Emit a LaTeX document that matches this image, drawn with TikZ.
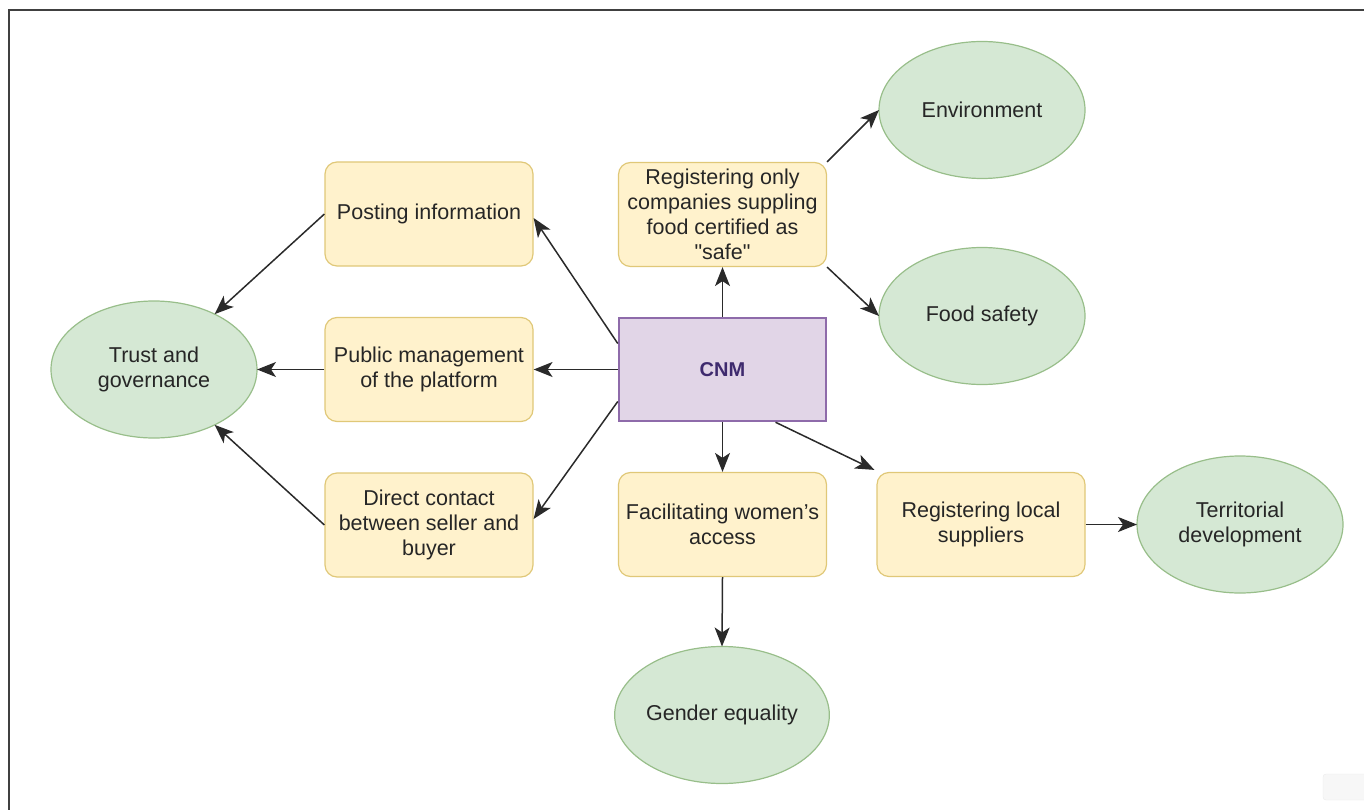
\documentclass[tikz,border=0pt]{standalone}
\usepackage{fontspec}
\setmainfont{Liberation Sans}
\newfontfamily\rawfont{Liberation Sans}
\usetikzlibrary{shapes.geometric,arrows.meta,calc}
\definecolor{boxfill}{HTML}{FFF2CC}
\definecolor{boxdraw}{HTML}{E0C878}
\definecolor{ellfill}{HTML}{D5E8D4}
\definecolor{elldraw}{HTML}{98BE8A}
\definecolor{cnmfill}{HTML}{E1D5E7}
\definecolor{cnmdraw}{HTML}{8E6BAA}
\definecolor{cnmtext}{HTML}{3E2A6E}
\definecolor{txt}{HTML}{262626}
\definecolor{lin}{HTML}{2A2A2A}
\tikzset{
  every node/.style={font=\fontsize{21.5}{25}\selectfont, text=txt, align=center},
  yellowbox/.style={draw=boxdraw, fill=boxfill, line width=1.2pt, rounded corners=12pt,
    minimum width=208pt, minimum height=104pt, inner sep=2pt},
  greenell/.style={ellipse, draw=elldraw, fill=ellfill, line width=1.2pt,
    minimum width=206pt, minimum height=137pt, inner sep=0pt, outer sep=0pt},
  cnmbox/.style={draw=cnmdraw, fill=cnmfill, line width=2.5pt,
    minimum width=207pt, minimum height=103pt, text=cnmtext,
    font=\fontsize{20}{24}\selectfont\bfseries},
  arr/.style={draw=lin, line width=1.5pt, -{Stealth[length=19pt,width=15pt,inset=5pt]}},
}
\begin{document}
\begin{tikzpicture}[x=1pt,y=-1pt]
\useasboundingbox (0,0) rectangle (1364,810);
\draw[line width=2pt, draw=black!75] (9,810) -- (9,10) -- (1364,10);
\draw[draw=black!8, fill=black!3, rounded corners=3pt] (1323,774) rectangle (1370,800);

\node[greenell] (trust) at (154,369.5) {Trust and\\governance};
\node[yellowbox] (post) at (429,214) {Posting information};
\node[yellowbox] (pub) at (429,369.5) {Public management\\of the platform};
\node[yellowbox] (dir) at (429,525) {Direct contact\\between seller and\\buyer};
\node[yellowbox] (regonly) at (722.5,214.5) {Registering only\\companies suppling\\food certified as\\{\rawfont"safe"}};
\node[cnmbox] (cnm) at (722.5,369.5) {CNM};
\node[yellowbox] (fac) at (722.5,524.5) {Facilitating women's\\access};
\node[yellowbox] (loc) at (981,524.5) {Registering local\\suppliers};
\node[greenell] (env) at (982,110) {Environment};
\node[greenell] (food) at (982,316) {Food safety};
\node[greenell] (terr) at (1240,524.5) {Territorial\\development};
\node[greenell] (gender) at (722,715) {Gender equality};

\draw[arr] (post.west) -- (trust);
\draw[arr] (pub.west) -- (trust.east);
\draw[arr] (dir.west) -- (trust);
\draw[arr] ($(cnm.west)+(0,-26)$) -- ($(post.east)+(0,4)$);
\draw[arr] (cnm.west) -- (pub.east);
\draw[arr] ($(cnm.west)+(0,32)$) -- ($(dir.east)+(0,-6)$);
\draw[arr] (cnm.north) -- (regonly.south);
\draw[arr] (regonly.north east) -- (env.west);
\draw[arr] (regonly.south east) -- (food.west);
\draw[arr] (cnm.south) -- (fac.north);
\draw[arr] ($(cnm.south)+(53,0)$) -- ($(loc.north west)+(-2,-2)$);
\draw[arr] (fac.south) -- (gender.north);
\draw[arr] (loc.east) -- (terr.west);
\end{tikzpicture}
\end{document}
